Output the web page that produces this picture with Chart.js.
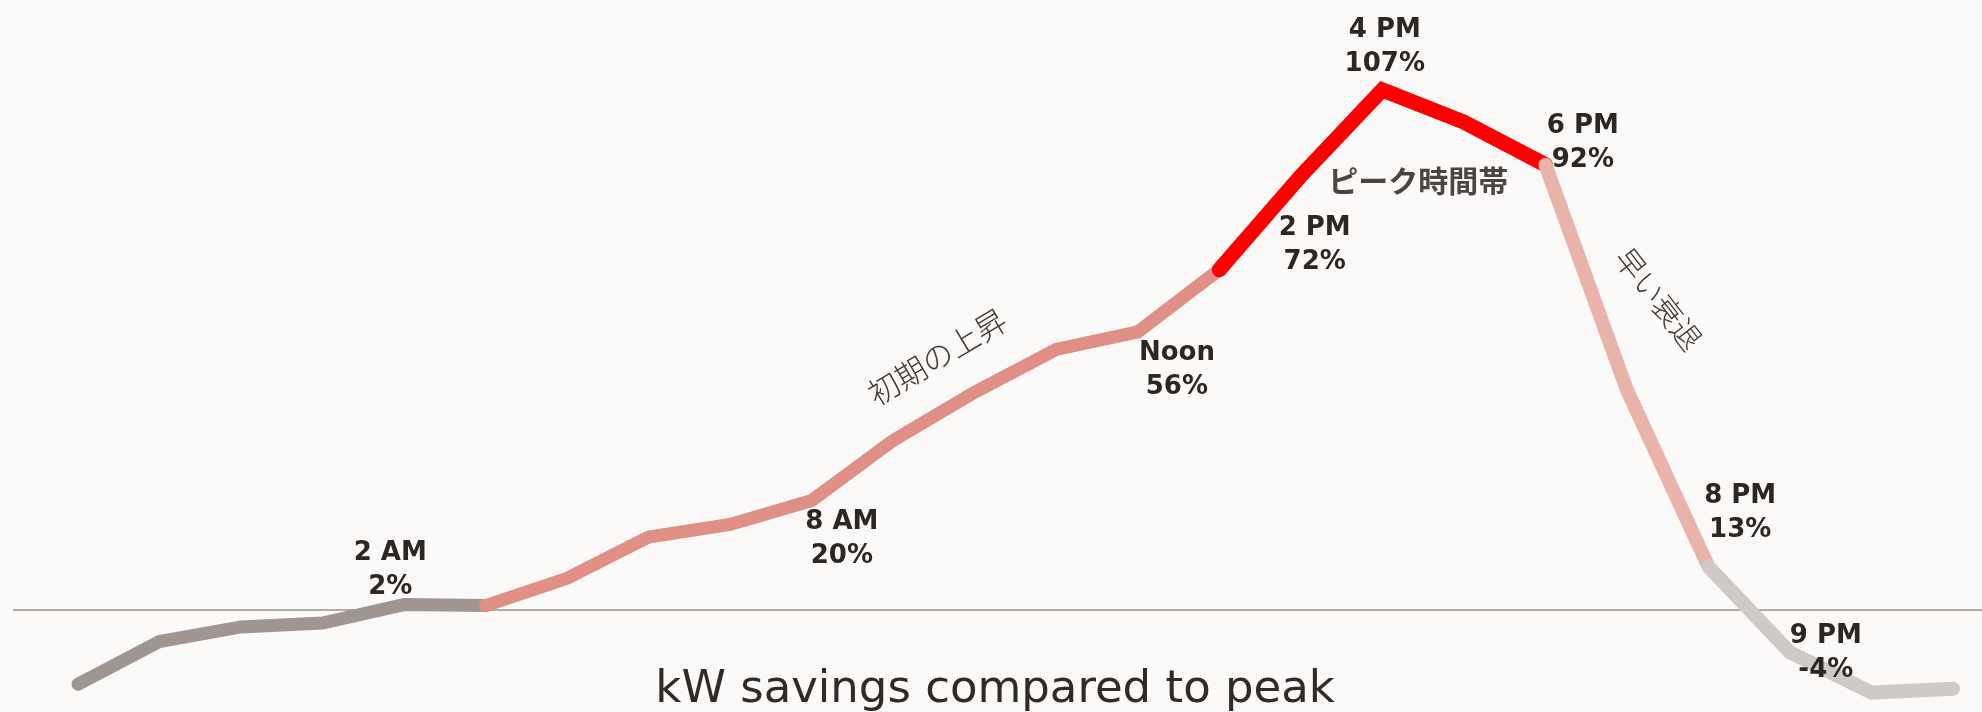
<!DOCTYPE html>
<html>
<head>
<meta charset="utf-8">
<script src="https://cdn.jsdelivr.net/npm/chart.js@4/dist/chart.umd.min.js"></script>
<style>
  html, body { margin: 0; padding: 0; background: #fbfaf9; }
  #wrap { width: 1982px; height: 712px; position: relative; }
  canvas { display: block; }
</style>
</head>
<body>
<div id="wrap"><canvas id="c" width="1982" height="712"></canvas></div>
<script>
// ---- data ----
const hours = ['12 AM','1 AM','2 AM','3 AM','4 AM','5 AM','6 AM','7 AM','8 AM','9 AM','10 AM','11 AM',
               'Noon','1 PM','2 PM','3 PM','4 PM','5 PM','6 PM','7 PM','8 PM','9 PM','10 PM','11 PM'];
const savingsPct = [-15.3, -6.5, -3.5, -2.7, 1.1, 0.9, 6.5, 15.0, 17.6, 22.5, 34.9, 44.8,
                    53.6, 57.2, 70.0, 89.3, 107.0, 100.4, 91.6, 45.3, 8.9, -8.7, -17.0, -16.2];
// phases (index ranges of hours)
const phaseNames  = ['夜間', '初期の上昇', 'ピーク時間帯', '早い衰退', '夜'];
const phaseStart  = [0, 5, 14, 18, 20];
const phaseEnd    = [5, 14, 18, 20, 23];
// callouts
const calloutTimes  = ['2 AM', '8 AM', 'Noon', '2 PM', '4 PM', '6 PM', '8 PM', '9 PM'];
const calloutValues = ['2%', '20%', '56%', '72%', '107%', '92%', '13%', '-4%'];
const chartTitle = 'kW savings compared to peak';

// ---- layout / style (kept apart from data) ----
const phaseColors = ['#9f9691', '#e08f87', '#ff0000', '#e9b3ab', '#cfcac7'];
const phaseWidths = [13, 13, 15, 14, 14];
const calloutAnchor = [
  {x: 3.83, y: 10.3}, {x: 9.37, y: 16.6}, {x: 13.48, y: 51.4}, {x: 15.17, y: 77.2},
  {x: 16.03, y: 117.8}, {x: 18.46, y: 98.1}, {x: 20.39, y: 22.1}, {x: 21.44, y: -6.8}
];
const phaseLabelAnchor = [
  null,
  {x: 10.54, y: 52.1, rot: -31, font: '300 31px "Noto Sans CJK JP"', color: '#3d3936'},
  {x: 16.44, y: 88.3, rot: 0, font: 'bold 30px "Noto Sans CJK JP"', color: '#4a4542'},
  {x: 19.39, y: 64.0, rot: 52, font: '300 30px "Noto Sans CJK JP"', color: '#3d3936'},
  null
];
const titleAnchor = {x: 11.25, y: -18.9};

const datasets = phaseNames.map((name, k) => ({
  label: name,
  data: savingsPct.slice(phaseStart[k], phaseEnd[k] + 1).map((v, j) => ({x: phaseStart[k] + j, y: v})),
  borderColor: phaseColors[k],
  backgroundColor: phaseColors[k],
  borderWidth: phaseWidths[k],
  borderCapStyle: 'round',
  borderJoinStyle: 'miter',
  pointRadius: 0,
  pointHoverRadius: 0,
  tension: 0,
  fill: false,
  clip: false,
  order: phaseNames.length - k
}));

const annotPlugin = {
  id: 'annot',
  beforeDatasetsDraw(chart) {
    const {ctx, chartArea: a, scales: {y}} = chart;
    const py = Math.round(y.getPixelForValue(0));
    ctx.save();
    ctx.strokeStyle = '#b2aca7';
    ctx.lineWidth = 2;
    ctx.beginPath();
    ctx.moveTo(a.left, py);
    ctx.lineTo(a.right, py);
    ctx.stroke();
    ctx.restore();
  },
  afterDatasetsDraw(chart) {
    const {ctx, scales: {x, y}} = chart;
    ctx.save();
    // callouts
    ctx.fillStyle = '#2b2725';
    ctx.font = 'bold 26px "DejaVu Sans"';
    ctx.textAlign = 'center';
    ctx.textBaseline = 'alphabetic';
    calloutTimes.forEach((t, i) => {
      const px = x.getPixelForValue(calloutAnchor[i].x);
      const py = y.getPixelForValue(calloutAnchor[i].y);
      ctx.fillText(t, px, py);
      ctx.fillText(calloutValues[i], px, py + 34);
    });
    // phase labels
    phaseNames.forEach((name, k) => {
      const p = phaseLabelAnchor[k];
      if (!p) return;
      ctx.save();
      ctx.translate(x.getPixelForValue(p.x), y.getPixelForValue(p.y));
      ctx.rotate(p.rot * Math.PI / 180);
      ctx.font = p.font;
      ctx.fillStyle = p.color;
      ctx.textAlign = 'center';
      ctx.textBaseline = 'middle';
      ctx.fillText(name, 0, 0);
      ctx.restore();
    });
    // title
    ctx.font = 'normal 45px "DejaVu Sans"';
    ctx.fillStyle = '#2f2b29';
    ctx.textAlign = 'center';
    ctx.textBaseline = 'alphabetic';
    ctx.fillText(chartTitle, x.getPixelForValue(titleAnchor.x), y.getPixelForValue(titleAnchor.y));
    ctx.restore();
  }
};

new Chart(document.getElementById('c'), {
  type: 'line',
  data: { datasets },
  options: {
    responsive: false,
    devicePixelRatio: 1,
    animation: false,
    layout: { padding: { left: 13, right: 0, top: 0, bottom: 0 } },
    plugins: { legend: { display: false }, tooltip: { enabled: false }, title: { display: false } },
    scales: {
      x: { type: 'linear', display: false, min: -0.797, max: 23.356 },
      y: { type: 'linear', display: false, min: -21.0, max: 125.5 }
    }
  },
  plugins: [annotPlugin]
});
</script>
</body>
</html>
